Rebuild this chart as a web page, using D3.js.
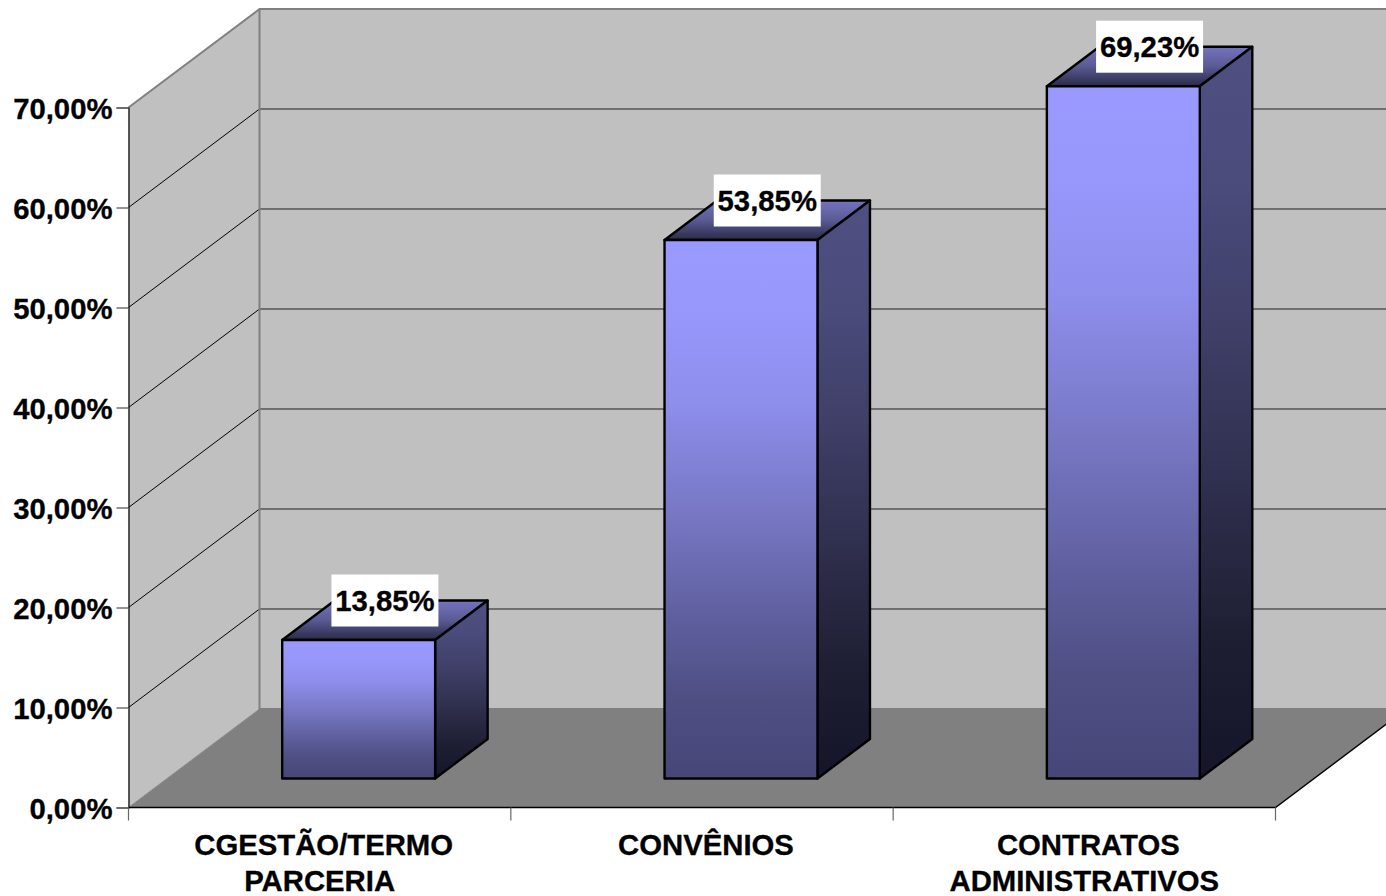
<!DOCTYPE html>
<html lang="pt">
<head>
<meta charset="utf-8">
<title>Distribuição por tipo de instrumento</title>
<script src="https://cdn.jsdelivr.net/npm/d3@7/dist/d3.min.js"></script>
<style>
  html, body { margin: 0; padding: 0; background: #fff; overflow: hidden; }
  svg { display: block; }
  text { font-family: "Liberation Sans", Arial, sans-serif; font-weight: 700; fill: #000; stroke: #000; stroke-width: 0.3px; }
</style>
</head>
<body>
<svg id="chart" width="1386" height="896"></svg>
<script>
// Chart content
const categories = ["CGESTÃO/TERMO PARCERIA", "CONVÊNIOS", "CONTRATOS ADMINISTRATIVOS"];
const categoryLines = [["CGESTÃO/TERMO", "PARCERIA"], ["CONVÊNIOS"], ["CONTRATOS", "ADMINISTRATIVOS"]];
const values = [13.85, 53.85, 69.23];
const valueLabels = ["13,85%", "53,85%", "69,23%"];
const yTicks = [0, 10, 20, 30, 40, 50, 60, 70];

const W = 1386, H = 896;
const svg = d3.select("#chart");

// Front plane scales; the 3D depth is an oblique offset from them.
const x = d3.scaleBand().domain(categories).range([128.5, 1275.5]).paddingInner(0).paddingOuter(0);
const y = d3.scaleLinear().domain([0, 70]).range([807.5, 107.5]);
const depth = { dx: 131, dy: -98.5 };        // floor depth
const barDepth = { dx: 52.5, dy: -39.5 };    // depth of one bar
const inset = { dx: 39, dy: -29 };           // bar front face behind the axis plane
const gapRatio = 1.5;                        // gap width relative to bar width

const line = d3.line();
const closed = pts => line(pts) + "Z";
const back = (px, py) => [px + depth.dx, py + depth.dy];

// Gradients: eased, staying flat near both ends of each face
const defs = svg.append("defs");
function gradient(id, stops) {
  const g = defs.append("linearGradient").attr("id", id)
    .attr("x1", 0).attr("y1", 0).attr("x2", 0).attr("y2", 1);
  stops.forEach(([o, c]) => g.append("stop").attr("offset", o).attr("stop-color", c));
}
gradient("faceFront", [[0, "#9999ff"], [0.14, "#9797fb"], [0.3, "#8e8eed"], [0.5, "#7878c6"],
  [0.7, "#5f5f9f"], [0.85, "#4f4f84"], [1, "#464678"]]);
gradient("faceSide", [[0, "#4f4f82"], [0.2, "#4a4a7b"], [0.4, "#3e3e66"], [0.6, "#2f2f4e"],
  [0.8, "#1f1f34"], [1, "#15152a"]]);
gradient("faceTop", [[0, "#7474bf"], [0.5, "#5a5a94"], [1, "#2a2a46"]]);

const x0 = x.range()[0], x1 = x.range()[1];
const yBase = y(0), yTop = y(70);

// Clip the plot to the page so the right of the back wall runs off the edge
svg.append("clipPath").attr("id", "page").append("rect").attr("width", W).attr("height", H);
const plot = svg.append("g").attr("clip-path", "url(#page)");

// Back wall
plot.append("path")
  .attr("d", closed([back(x0, yTop), back(x1, yTop), back(x1, yBase), back(x0, yBase)]))
  .attr("fill", "#c0c0c0");

// Side wall
plot.append("path")
  .attr("d", closed([[x0, yBase], [x0, yTop], back(x0, yTop), back(x0, yBase)]))
  .attr("fill", "#c0c0c0");

// Floor
plot.append("path")
  .attr("d", closed([[x0, yBase], [x1, yBase], back(x1, yBase), back(x0, yBase)]))
  .attr("fill", "#808080");

// Gridlines: side wall in thin black, back wall in dark grey
yTicks.filter(t => t > 0 && t < 70).forEach(t => {
  plot.append("path").attr("d", line([[x0, y(t)], back(x0, y(t))]))
    .attr("stroke", "#000").attr("stroke-width", 1).attr("fill", "none");
});
yTicks.filter(t => t > 0 && t < 70).forEach(t => {
  plot.append("path").attr("d", line([back(x0, y(t)), back(x1, y(t))]))
    .attr("stroke", "#555").attr("stroke-width", 1.4).attr("fill", "none");
});

// Wall outlines
plot.append("path")
  .attr("d", line([[x0, yTop], back(x0, yTop), back(x1, yTop)]))
  .attr("stroke", "#808080").attr("stroke-width", 2).attr("fill", "none");
plot.append("path")
  .attr("d", line([back(x0, yTop), back(x0, yBase), back(x1, yBase)]))
  .attr("stroke", "#808080").attr("stroke-width", 2).attr("fill", "none");
plot.append("path")
  .attr("d", line([[x0, yBase], back(x0, yBase)]))
  .attr("stroke", "#8a8a8a").attr("stroke-width", 1).attr("fill", "none");

// Floor front and right edges
plot.append("path")
  .attr("d", line([back(x1, yBase), [x1, yBase], [x0, yBase]]))
  .attr("stroke", "#000").attr("stroke-width", 1.4).attr("fill", "none");

// Value axis
const yAxis = svg.append("g")
  .attr("transform", `translate(${x0},0)`)
  .call(d3.axisLeft(y).tickValues(yTicks).tickSize(12).tickPadding(4)
    .tickFormat(t => d3.format(".2f")(t).replace(".", ",") + "%"));
yAxis.select(".domain").attr("stroke", "#000").attr("stroke-width", 1.2);
yAxis.selectAll(".tick line").attr("stroke", "#666").attr("stroke-width", 1.4);
yAxis.selectAll(".tick text")
  .attr("font-size", 29.3).attr("font-family", null).attr("text-anchor", "end").attr("dy", "0.36em");
yAxis.attr("font-family", null).attr("font-size", null);

// Category ticks at the band boundaries
const boundaries = categories.map(c => x(c)).concat([x1]);
svg.append("g").selectAll("line").data(boundaries).join("line")
  .attr("x1", d => d).attr("x2", d => d)
  .attr("y1", yBase).attr("y2", yBase + 13)
  .attr("stroke", "#666").attr("stroke-width", 1.2);

// Category labels; continuation lines sit slightly left of the first
const catLabels = svg.append("g").selectAll("text").data(categories).join("text")
  .attr("font-size", 29.3).attr("text-anchor", "middle");
catLabels.each(function (c, i) {
  d3.select(this).selectAll("tspan").data(categoryLines[i]).join("tspan")
    .attr("x", (d, j) => x(c) + x.bandwidth() / 2 + 4 - j * 4)
    .attr("y", (d, j) => 855 + j * 36)
    .text(d => d);
});

// Bars
const barW = x.bandwidth() / (1 + gapRatio);
const sidePad = (x.bandwidth() - barW) / 2;
const bars = svg.append("g").selectAll("g").data(values).join("g");
bars.each(function (v, i) {
  const g = d3.select(this);
  const left = x(categories[i]) + sidePad + inset.dx;
  const right = left + barW;
  const bottom = y(0) + inset.dy;
  const top = bottom - (y(0) - y(v));
  const b = (px, py) => [px + barDepth.dx, py + barDepth.dy];
  const style = s => s.attr("stroke", "#000").attr("stroke-width", 2.4).attr("stroke-linejoin", "round");
  g.append("path").attr("d", closed([[left, top], [right, top], b(right, top), b(left, top)]))
    .attr("fill", "url(#faceTop)").call(style);
  g.append("path").attr("d", closed([[right, top], b(right, top), b(right, bottom), [right, bottom]]))
    .attr("fill", "url(#faceSide)").call(style);
  g.append("path").attr("d", closed([[left, top], [right, top], [right, bottom], [left, bottom]]))
    .attr("fill", "url(#faceFront)").call(style);

  // Value label, centred over the middle of the bar's top face
  const cx = (left + right) / 2 + barDepth.dx / 2;
  const cy = top + barDepth.dy;
  g.append("rect").attr("x", cx - 53.5).attr("y", cy - 26).attr("width", 107).attr("height", 52)
    .attr("fill", "#fff");
  g.append("text").attr("x", cx).attr("y", cy + 10)
    .attr("text-anchor", "middle").attr("font-size", 29.3).text(valueLabels[i]);
});
</script>
</body>
</html>
